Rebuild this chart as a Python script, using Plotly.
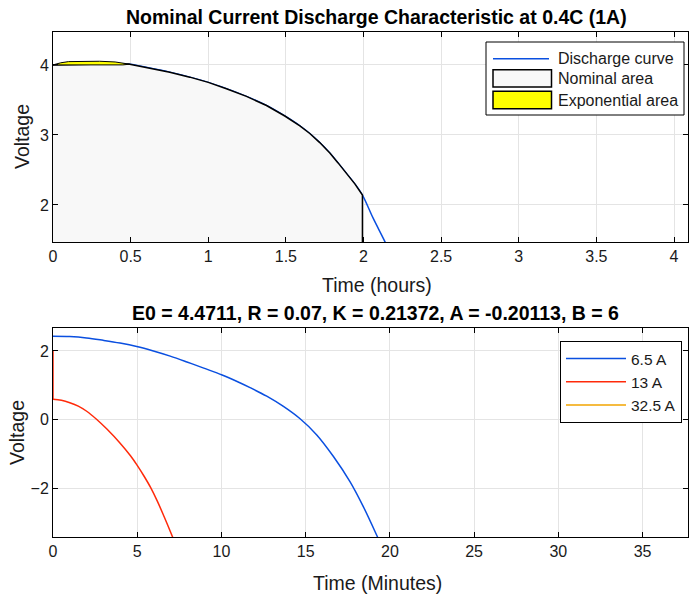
import plotly.graph_objects as go

# ---------------- data ----------------
# Top: nominal discharge at 0.4C (1A), time in hours, voltage in V
dis_hours = [0.0, 0.1, 0.25, 0.494, 0.623, 0.752, 0.881, 1.0, 1.117, 1.246, 1.375, 1.493, 1.59, 1.654,
             1.718, 1.783, 1.836, 1.89, 1.944, 1.993, 2.062, 2.137, 2.2]
dis_volts = [4.0, 4.005, 4.01, 4.01, 3.955, 3.895, 3.825, 3.75, 3.66, 3.55, 3.42, 3.27, 3.13, 3.02,
             2.89, 2.74, 2.60, 2.45, 2.30, 2.14, 1.81, 1.48, 1.18]

nom_hours = [0.0, 0.1, 0.25, 0.494, 0.623, 0.752, 0.881, 1.0, 1.117, 1.246, 1.375, 1.493, 1.59, 1.654,
             1.718, 1.783, 1.836, 1.89, 1.944, 1.993]
nom_volts = [4.0, 4.005, 4.01, 4.01, 3.955, 3.895, 3.825, 3.75, 3.66, 3.55, 3.42, 3.27, 3.13, 3.02,
             2.89, 2.74, 2.60, 2.45, 2.30, 2.14]
nom_floor = 0.0

exp_hours_upper = [0.0, 0.05, 0.1, 0.2, 0.3, 0.4, 0.45, 0.494]
exp_volts_upper = [4.0, 4.03, 4.047, 4.053, 4.052, 4.042, 4.027, 4.01]
exp_hours_lower = [0.45, 0.3, 0.1, 0.0]
exp_volts_lower = [4.0, 4.0, 4.0, 4.0]

# Bottom: discharge at several currents, time in minutes
t_65 = [0.0, 0.99, 1.99, 2.98, 3.98, 4.97, 5.96, 6.96, 7.95, 8.95, 10.04, 10.93, 11.70, 12.69, 13.68,
        14.67, 15.66, 16.65, 17.64, 18.43, 19.22, 19.6]
v_65 = [2.43, 2.42, 2.38, 2.31, 2.23, 2.13, 2.00, 1.85, 1.68, 1.50, 1.30, 1.11, 0.93, 0.68, 0.38,
        0.02, -0.45, -1.08, -1.82, -2.55, -3.38, -3.80]

t_13_start = [0.0, 0.0]
v_13_start = [2.0, 0.59]
t_13 = [0.0, 0.5, 1.0, 1.5, 2.0, 2.6, 3.2, 4.0, 4.6, 5.0, 5.4, 5.8, 6.2, 6.6, 7.1, 7.3]
v_13 = [0.59, 0.56, 0.49, 0.39, 0.24, 0.0, -0.28, -0.70, -1.06, -1.34, -1.65, -1.99, -2.39, -2.84, -3.43, -3.67]

t_325 = [None]
v_325 = [None]

top_title = "Nominal Current Discharge Characteristic at 0.4C (1A)"
bot_title = "E0 = 4.4711, R = 0.07, K = 0.21372, A = -0.20113, B = 6"
top_legend_labels = ["Discharge curve", "Nominal area", "Exponential area"]

# ---------------- figure ----------------
BLUE = "#0a4fe0"
RED = "#ff2a0a"
ORANGE = "#f2a400"
NOMFILL = "#f8f8f8"
EXPFILL = "#ffff00"
FONT = "Liberation Sans, Arial, sans-serif"
TXT = "#1a1a1a"

fig = go.Figure()

fig.add_trace(go.Scatter(x=dis_hours, y=dis_volts, mode="lines", name=top_legend_labels[0],
                         line=dict(color=BLUE, width=1.5, shape="spline", smoothing=1.0),
                         xaxis="x", yaxis="y", showlegend=False))

fig.add_trace(go.Scatter(x=nom_hours + [nom_hours[-1], 0.0], y=nom_volts + [nom_floor, nom_floor],
                         mode="lines", fill="toself", fillcolor=NOMFILL, name=top_legend_labels[1],
                         line=dict(color="black", width=1.5),
                         xaxis="x", yaxis="y", showlegend=False))

fig.add_trace(go.Scatter(x=exp_hours_upper + exp_hours_lower, y=exp_volts_upper + exp_volts_lower,
                         mode="lines", fill="toself", fillcolor=EXPFILL, name=top_legend_labels[2],
                         line=dict(color="black", width=1),
                         xaxis="x", yaxis="y", showlegend=False))

fig.add_trace(go.Scatter(x=t_65, y=v_65, mode="lines", name="6.5 A",
                         line=dict(color=BLUE, width=1.5, shape="spline", smoothing=1.0),
                         xaxis="x2", yaxis="y2"))
fig.add_trace(go.Scatter(x=t_13, y=v_13, mode="lines", name="13 A",
                         line=dict(color=RED, width=1.5, shape="spline", smoothing=1.0),
                         xaxis="x2", yaxis="y2"))
fig.add_trace(go.Scatter(x=t_13_start, y=v_13_start, mode="lines", name="13 A",
                         line=dict(color=RED, width=1.5), showlegend=False,
                         xaxis="x2", yaxis="y2"))
fig.add_trace(go.Scatter(x=t_325, y=v_325, mode="lines", name="32.5 A",
                         line=dict(color=ORANGE, width=1.5),
                         xaxis="x2", yaxis="y2"))

W, H = 690, 599
L, R = 53, 2


def px(x):
    return (x - L) / (W - L - R)


def py(y):
    return 1 - y / H


axis_common = dict(showline=True, linecolor="black", linewidth=1, mirror="ticks",
                   ticks="inside", ticklen=5, tickcolor="black", showgrid=True,
                   gridcolor="#e4e4e4", gridwidth=1, zeroline=False, automargin=False,
                   tickfont=dict(family=FONT, size=16, color=TXT))

fig.update_layout(
    width=W, height=H,
    margin=dict(l=L, r=R, t=0, b=0),
    paper_bgcolor="white", plot_bgcolor="white",
    font=dict(family=FONT, color=TXT),
    xaxis=dict(domain=[0, 1], range=[0, 4.09], tick0=0, dtick=0.5, anchor="y", **axis_common),
    yaxis=dict(domain=[py(242), py(32)], range=[1.47, 4.47], tickvals=[2, 3, 4], anchor="x", **axis_common),
    xaxis2=dict(domain=[0, 1], range=[0, 37.7], tick0=0, dtick=5, anchor="y2", **axis_common),
    yaxis2=dict(domain=[py(537), py(328)], range=[-3.43, 2.67], tickvals=[-2, 0, 2], anchor="x2", **axis_common),
    legend=dict(x=px(682), y=py(341), xanchor="right", yanchor="top",
                bgcolor="white", bordercolor="black", borderwidth=1,
                font=dict(family=FONT, size=15.5, color=TXT), itemwidth=60,
                tracegroupgap=0),
    showlegend=True,
)

# manual legend for the top panel (patch symbols like the original)
fig.add_shape(type="rect", xref="paper", yref="paper", x0=px(486), x1=px(684), y0=py(115), y1=py(42),
              fillcolor="white", line=dict(color="black", width=1))
fig.add_shape(type="line", xref="paper", yref="paper", x0=px(493), x1=px(549), y0=py(58.7), y1=py(58.7),
              line=dict(color=BLUE, width=1.5))
fig.add_shape(type="rect", xref="paper", yref="paper", x0=px(493), x1=px(551.5), y0=py(87), y1=py(69.7),
              fillcolor=NOMFILL, line=dict(color="black", width=1.5))
fig.add_shape(type="rect", xref="paper", yref="paper", x0=px(493), x1=px(551.5), y0=py(108.7), y1=py(91.3),
              fillcolor=EXPFILL, line=dict(color="black", width=1.5))
for lbl, yy in zip(top_legend_labels, [58.7, 78.3, 100]):
    fig.add_annotation(text=lbl, xref="paper", yref="paper", x=px(556), y=py(yy), xanchor="left",
                       yanchor="middle", showarrow=False, font=dict(family=FONT, size=16, color=TXT))

ann = dict(xref="paper", yref="paper", showarrow=False, xanchor="center", yanchor="middle")
fig.add_annotation(text="<b>" + top_title + "</b>", x=px(376), y=py(17),
                   font=dict(family=FONT, size=19.5, color="black"), **ann)
fig.add_annotation(text="<b>" + bot_title + "</b>", x=px(375), y=py(313),
                   font=dict(family=FONT, size=19.5, color="black"), **ann)
fig.add_annotation(text="Time (hours)", x=px(377), y=py(285),
                   font=dict(family=FONT, size=19.5, color=TXT), **ann)
fig.add_annotation(text="Time (Minutes)", x=px(377), y=py(583),
                   font=dict(family=FONT, size=19.5, color=TXT), **ann)
fig.add_annotation(text="Voltage", x=px(22), y=py(137), textangle=-90,
                   font=dict(family=FONT, size=19.5, color=TXT), **ann)
fig.add_annotation(text="Voltage", x=px(17), y=py(433), textangle=-90,
                   font=dict(family=FONT, size=19.5, color=TXT), **ann)

fig.write_html("out.html", config={"displayModeBar": False},
               post_script="document.body.style.margin='0px';")
